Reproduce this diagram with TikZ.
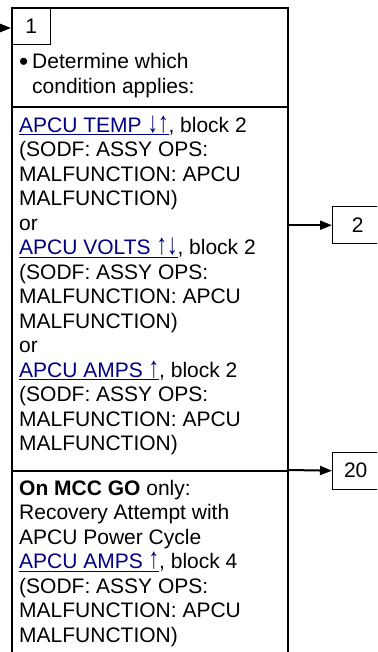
\documentclass[tikz,border=0pt]{standalone}
\usepackage{fontspec}
\usepackage{graphicx}
\setmainfont{Liberation Sans}
\usetikzlibrary{arrows.meta, positioning}
\definecolor{linkcol}{HTML}{000080}
\newcommand{\lnk}[1]{\textcolor{linkcol}{\underline{#1}}}
\newcommand{\bodyfont}{\fontsize{21}{24.5}\selectfont}
\newcommand{\upar}{\scalebox{1}[1.4]{↑}}
\newcommand{\dnar}{\scalebox{1}[1.4]{↓}}
\tikzset{
  secbox/.style={rectangle, draw, line width=2pt, minimum width=276pt, inner sep=0pt, anchor=north west},
  numbox/.style={rectangle, draw, line width=1.4pt, minimum height=37pt, inner sep=0pt, font=\bodyfont},
  txt/.style={anchor=base west, inner sep=0pt, align=left, font=\bodyfont},
  flow/.style={-{Triangle[length=12pt,width=9pt]}, line width=2pt},
}

\begin{document}
\begin{tikzpicture}[x=1pt, y=-1pt]
  \useasboundingbox (0,0) rectangle (377,652);
  \clip (0,0) rectangle (377,652);
  % main block, three sections
  \node[secbox, minimum height=99pt]  (sec1) at (11,7)   {};
  \node[secbox, minimum height=364pt] (sec2) at (11,106) {};
  \node[secbox, minimum height=200pt] (sec3) at (11,470) {};
  % step number
  \node[numbox, minimum width=39pt, anchor=north west] (n1) at (11,7) {1};
  \coordinate (entry) at (-2,28);
  \draw[flow] (entry) -- (entry -| n1.west);
  % section texts (anchored at the baseline of their last line)
  \node[txt] (cond) at (19,93.5)
    {\makebox[13pt][l]{\raisebox{-1.5pt}{\scalebox{1.25}{•}}}Determine which\\\hspace*{13pt}condition applies:};
  \node[txt] (malf) at (19,450.5)
    {\lnk{APCU TEMP \dnar\upar}, block 2\\
     (SODF: ASSY OPS:\\
     MALFUNCTION: APCU\\
     MALFUNCTION)\\
     or\\
     \lnk{APCU VOLTS \upar\dnar}, block 2\\
     (SODF: ASSY OPS:\\
     MALFUNCTION: APCU\\
     MALFUNCTION)\\
     or\\
     \lnk{APCU AMPS \upar}, block 2\\
     (SODF: ASSY OPS:\\
     MALFUNCTION: APCU\\
     MALFUNCTION)};
  \node[txt] (mcc) at (19,642)
    {\textbf{On MCC GO} only:\\
     Recovery Attempt with\\
     APCU Power Cycle\\
     \lnk{APCU AMPS \upar}, block 4\\
     (SODF: ASSY OPS:\\
     MALFUNCTION: APCU\\
     MALFUNCTION)};
  % target blocks
  \node[numbox, minimum width=50pt, anchor=north west] (t2)  at (332,206)   {2};
  \node[numbox, minimum width=46pt, anchor=north west] (t20) at (332,451.5) {20};
  \draw[flow] (t2.west -| sec2.east) -- (t2.west);
  \draw[flow] (sec3.north east) -- (t20.west);
\end{tikzpicture}
\end{document}
